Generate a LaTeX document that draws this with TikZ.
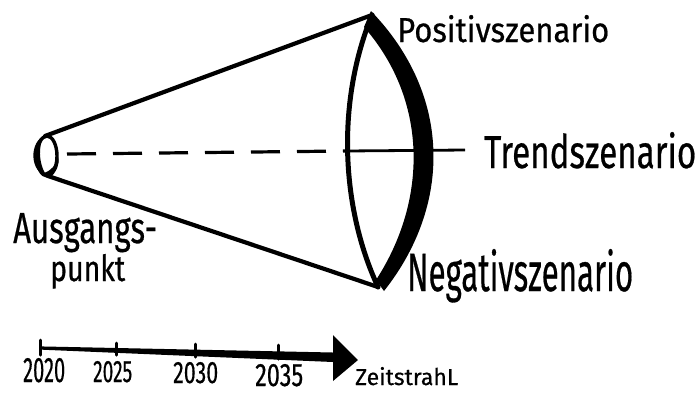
\documentclass[tikz,border=0pt]{standalone}
\usepackage{graphicx}
\usepackage{fontspec}
\setmainfont{Fira Sans}[FakeBold=0.6]
\usetikzlibrary{shapes.geometric}
\begin{document}
\begin{tikzpicture}[x=1pt,y=-1pt,
  ink/.style={black,line width=4.2pt,line cap=round,line join=round},
  label/.style={inner sep=0pt,anchor=base west},
  tick/.style={black,line width=3pt,line cap=round}]
\useasboundingbox (0,0) rectangle (700,392);
% key points
\coordinate (oT) at (45,136);
\coordinate (oB) at (48,176);
\coordinate (T) at (372,15);
\coordinate (B) at (378,287);
\coordinate (dS) at (67,154);
\coordinate (dE) at (346,151);
\coordinate (tE) at (465,150);
% origin ellipse
\node[draw,ink,line width=3.4pt,ellipse,minimum width=20pt,minimum height=40pt,inner sep=0pt] (o) at (47,156) {};
\fill[black] (45,135) .. controls (29,142) and (29,172) .. (48,177) .. controls (39,168) and (37,145) .. (45,135) -- cycle;
\fill[black] (48,177) .. controls (57,172) and (60,165) .. (58,157) .. controls (55,166) and (52,170) .. (44,173) -- cycle;
% cone sides
\draw[ink] (oT) -- (T);
\draw[ink] (oB) -- (B);
% lens: thin left arc and thick right band
\draw[ink,line width=5pt] (T) .. controls (337,100) and (340,205) .. (B);
\fill[black] (371,11) .. controls (452,95) and (452,205) .. (384,291) -- (376,280) .. controls (428,200) and (428,100) .. (364,27) -- cycle;
% trend line
\draw[black,line width=3.2pt,dash pattern=on 29pt off 17pt] (dS) -- (dE);
\draw[black,line width=2.8pt] (dE) -- (tE);
% labels
\node[label] (pos) at (397,42) {\resizebox{212pt}{27pt}{Positivszenario}};
\node[label] (trend) at (484,168) {\resizebox{212pt}{36pt}{Trendszenario}};
\node[label] (neg) at (407,291) {\resizebox{226pt}{42pt}{Negativszenario}};
\node[label] (aus) at (13,243) {\resizebox{144pt}{30pt}{Ausgangs-}};
\node[label] (pun) at (50,281) {\resizebox{75pt}{27pt}{punkt}};
% timeline
\coordinate (aT) at (333,335);
\coordinate (aP) at (358,360);
\coordinate (aB) at (333,381);
\fill[black] (40,346.4) -- (333,352.5) -- (333,362) -- (40,349.6) -- cycle;
\fill[black] (aT) -- (aP) -- (aB) -- cycle;
\draw[tick] (40,340) -- (40,355);
\draw[tick] (116,343) -- (116,355);
\draw[tick] (195,344) -- (195,357);
\draw[tick] (278,345) -- (278,359);
\node[label] (y20) at (23,382) {\resizebox{42pt}{24pt}{2020}};
\node[label] (y25) at (93,382) {\resizebox{39pt}{21pt}{2025}};
\node[label] (y30) at (173,383) {\resizebox{45pt}{21pt}{2030}};
\node[label] (y35) at (255,386) {\resizebox{48pt}{22pt}{2035}};
\node[label] (zs) at (355,385) {\resizebox{103pt}{18pt}{ZeitstrahL}};
\end{tikzpicture}
\end{document}
